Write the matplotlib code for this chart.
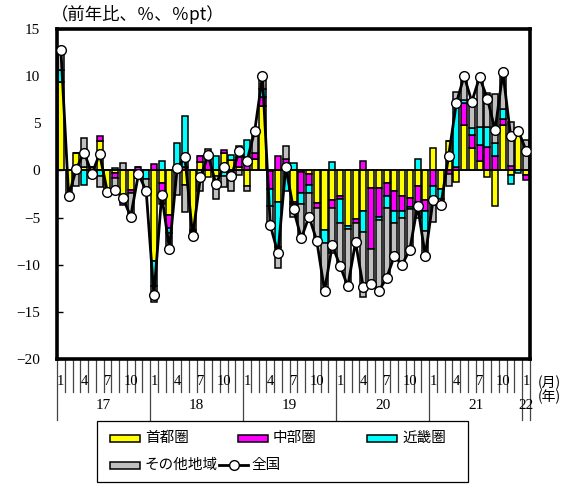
import numpy as np
import matplotlib
matplotlib.use("Agg")
import matplotlib.pyplot as plt
from matplotlib.patches import Rectangle
from matplotlib.lines import Line2D

plt.rcParams['font.family'] = ['Noto Sans CJK JP', 'DejaVu Sans']

# Monthly contributions (Jan 2017 - Jan 2022), %pt
shuto = [9.4, -2.6, 1.9, 0.4, 0.4, 3.1, -2.3, -0.3, -3.4, -2.05, 0.0, 0.0,
         -9.6, -1.35, -4.7, 0.0, -1.5, -6.3, 0.9, -0.7, -0.6, 1.8, 1.1, 0.4,
         -1.7, 1.2, 6.8, -0.1, -3.3, 0.6, -3.3, -0.2, -0.4, -3.5, -6.3, -3.1,
         -2.75, -5.9, -5.1, -4.3, -1.9, -1.9, -1.35, -2.2, -2.75, -2.9, -1.7, -3.1,
         2.35, -2.0, 3.1, -1.2, 4.85, 2.35, 1.05, -0.65, -3.8, 4.85, -0.45, 4.3,
         -0.5]
chubu = [0.0, -0.1, 0.0, 0.0, 0.0, 0.5, 0.0, -0.5, -0.3, -0.35, 0.35, 0.0,
         0.7, -0.9, -1.4, 0.4, 0.4, -0.2, 0.6, 1.4, 0.0, 0.35, 0.0, 1.0,
         0.6, 0.6, 1.0, -1.9, 1.55, 0.6, -0.3, -2.2, -1.1, -0.5, 0.0, -0.9,
         -0.3, 0.0, -0.5, 0.95, -6.4, -3.0, -1.4, -2.1, -1.6, -0.95, -1.6, -1.2,
         -1.7, 0.0, -0.4, 0.4, 2.3, 1.4, 1.65, 2.5, 1.5, 0.65, 0.5, 0.0,
         -0.5]
kinki = [1.2, 0.0, 0.0, -1.5, 0.0, -0.6, 0.0, 0.25, 0.0, 0.0, -0.75, -0.9,
         -2.7, 0.95, -0.55, 2.5, 5.4, 0.0, 0.0, 0.0, 1.5, -0.6, 0.5, 1.2,
         2.6, 0.0, 0.8, -1.8, -4.8, -2.2, 0.8, -1.2, -0.9, 0.0, -1.4, 0.85,
         -2.5, -0.35, 0.0, -2.2, 0.0, -0.35, -1.25, -1.25, -0.7, -0.2, 1.2, -2.1,
         -1.1, -1.0, 0.0, 6.9, 0.35, 0.8, 1.95, 2.1, 1.4, 1.0, -0.95, -0.3,
         0.0]
others = [2.2, 0.0, -1.7, 3.0, -0.75, -1.2, 0.0, -1.55, 0.8, -2.5, 0.0, -1.25,
          -1.7, -1.3, -1.75, -2.6, -2.9, -0.5, -2.2, 0.9, -2.4, -1.15, -2.2, -0.5,
          -0.5, 2.4, 1.4, -2.1, -2.3, 1.4, -1.3, -3.6, -2.5, -3.5, -5.0, -4.8,
          -4.4, -6.0, -2.0, -6.9, -3.9, -7.6, -7.4, -3.5, -4.9, -4.3, -1.7, -2.6,
          -2.7, -0.7, -1.2, 1.05, 2.5, 2.75, 5.2, 3.65, 5.2, 3.9, 4.6, 0.2,
          3.25]
zenkoku = [12.8, -2.7, 0.2, 1.9, -0.35, 1.75, -2.3, -2.1, -2.9, -4.9, -0.4, -2.15,
           -13.25, -2.6, -8.3, 0.25, 1.4, -7.0, -0.7, 1.6, -1.45, 0.4, -0.55, 2.1,
           1.0, 4.2, 10.0, -5.8, -8.8, 0.35, -4.1, -7.2, -4.9, -7.45, -12.75, -7.95,
           -10.1, -12.3, -7.6, -12.4, -12.05, -12.8, -11.4, -9.1, -10.0, -8.4, -3.75, -9.05,
           -3.15, -3.7, 1.5, 7.15, 10.0, 7.3, 9.9, 7.6, 4.3, 10.4, 3.7, 4.2,
           2.1]

series_names = ['首都圏', '中部圏', '近畿圏', 'その他地域']
series_colors = ['#FFFF00', '#FF00FF', '#00FFFF', '#C0C0C0']
line_name = '全国'

years = ['17', '18', '19', '20', '21', '22']
month_labels = ['1', '4', '7', '10']
ytick_values = [15, 10, 5, 0, -5, -10, -15, -20]

W, H = 566, 491
fig = plt.figure(figsize=(W / 100, H / 100), dpi=100)
ax = fig.add_axes([57 / W, 1 - 359 / H, (530 - 57) / W, (359 - 29) / H])

n = len(zenkoku)
x = np.arange(n)
pos_base = np.zeros(n)
neg_base = np.zeros(n)
for vals, col in zip([shuto, chubu, kinki, others], series_colors):
    v = np.array(vals, dtype=float)
    bottom = np.where(v >= 0, pos_base, neg_base)
    ax.bar(x, v, bottom=bottom, width=0.78, color=col, edgecolor='black',
           linewidth=1.1, zorder=2)
    pos_base = pos_base + np.where(v > 0, v, 0)
    neg_base = neg_base + np.where(v < 0, v, 0)

ax.axhline(0, color='black', linewidth=1.2, zorder=3)
ax.plot(x, zenkoku, color='black', linewidth=2.0, marker='o', markersize=7,
        markerfacecolor='white', markeredgecolor='black', markeredgewidth=1.0,
        zorder=4)

ax.set_xlim(-0.5, n - 0.5)
ax.set_ylim(-20, 15)
ax.set_yticks(ytick_values)
ax.set_yticklabels([str(v).replace('-', '−') for v in ytick_values],
                   family='Liberation Serif', fontsize=11)
ax.tick_params(axis='y', direction='in', length=4, width=1, pad=12)
ax.set_xticks([])
for s in ax.spines.values():
    s.set_linewidth(2.6)

# Month / year scale under the plot
tr = ax.get_xaxis_transform()
year_starts = [0, 12, 24, 36, 48, 60]
for b in range(n + 1):
    edge = b - 0.5
    is_year = (b in year_starts) or b == n
    y_end = -0.185 if is_year else -0.10
    ax.plot([edge, edge], [0, y_end], color='#444444', linewidth=0.9,
            transform=tr, clip_on=False)
for i in range(n):
    m = i % 12 + 1
    if str(m) in month_labels:
        ax.text(i, -0.068, str(m), transform=tr, ha='center', va='center',
                family='Liberation Serif', fontsize=10.5)
for k, yr in enumerate(years):
    start = year_starts[k]
    end = min(start + 12, n)
    ax.text((start + end - 1) / 2, -0.142, yr, transform=tr, ha='center',
            va='center', family='Liberation Serif', fontsize=11)

fig.text(538 / W, 1 - 383 / H, '(月)', ha='left', va='center', fontsize=10)
fig.text(538 / W, 1 - 397 / H, '(年)', ha='left', va='center', fontsize=10)
fig.text(51 / W, 1 - 15 / H, '（前年比、％、％pt）', ha='left', va='center',
         fontsize=12.5)

# Legend box
def fx(px):
    return px / W

def fy(py):
    return 1 - py / H

fig.patches.append(Rectangle((fx(97), fy(482)), fx(468) - fx(97), fy(421) - fy(482),
                             transform=fig.transFigure, fill=False,
                             edgecolor='black', linewidth=0.9))
entries = [(110, 438, 0), (238, 438, 1), (367, 438, 2), (110, 465, 3)]
for px, py, k in entries:
    fig.patches.append(Rectangle((fx(px), fy(py + 3.5)), fx(30), 7 / H,
                                 transform=fig.transFigure,
                                 facecolor=series_colors[k], edgecolor='black',
                                 linewidth=1.1))
    fig.text(fx(px + 35), fy(py), series_names[k], ha='left', va='center',
             fontsize=10.5)
fig.add_artist(Line2D([fx(219), fx(248)], [fy(465), fy(465)], color='black',
                      linewidth=2.0, transform=fig.transFigure))
fig.add_artist(Line2D([fx(233.5)], [fy(465)], color='black', marker='o',
                      markersize=7, markerfacecolor='white',
                      markeredgecolor='black', transform=fig.transFigure))
fig.text(fx(251), fy(465), line_name, ha='left', va='center', fontsize=10.5)

fig.savefig('out.png', dpi=100)
